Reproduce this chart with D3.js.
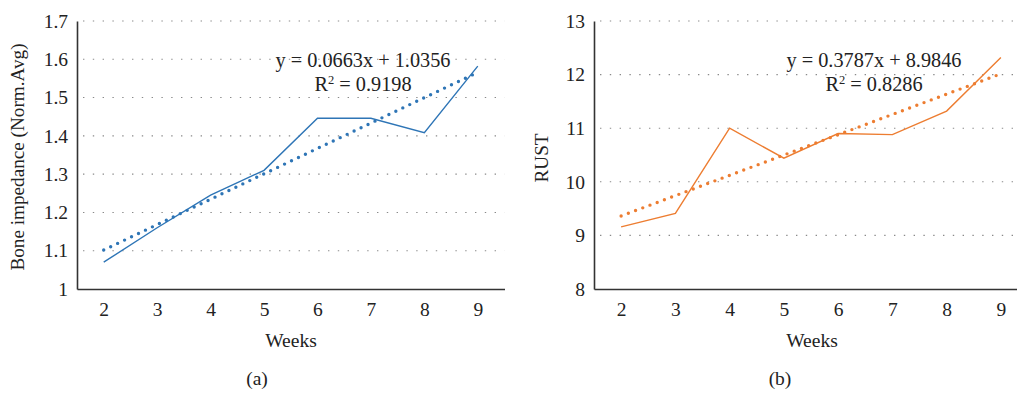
<!DOCTYPE html>
<html><head><meta charset="utf-8">
<script src="https://cdn.jsdelivr.net/npm/d3@7"></script>
<style>
body{margin:0;background:#fff;}
svg{display:block;font-family:"Liberation Serif","DejaVu Serif",serif;}
</style></head>
<body><svg id="c" width="1017" height="394"></svg>
<script>
// ---- data ----
const weeks = [2, 3, 4, 5, 6, 7, 8, 9];
const impedance = [1.07, 1.16, 1.245, 1.31, 1.446, 1.446, 1.408, 1.582];
const rust = [9.16, 9.41, 11.0, 10.44, 10.90, 10.88, 11.32, 12.32];
const impedanceTrend = [1.1019, 1.5660];   // trendline at week 2 and week 9
const rustTrend = [9.3633, 12.0142];
const impedanceTicks = [1, 1.1, 1.2, 1.3, 1.4, 1.5, 1.6, 1.7];
const rustTicks = [8, 9, 10, 11, 12, 13];
const impedanceEq = ["y = 0.0663x + 1.0356", "0.9198"];
const rustEq = ["y = 0.3787x + 8.9846", "0.8286"];

const svg = d3.select("#c");
const fs = 19.5;

function panel(o) {
  const g = svg.append("g");
  const x = d3.scalePoint().domain(weeks).range([o.x0, o.x1]).padding(0.5);
  const y = d3.scaleLinear().domain(o.domain).range([289, 21]);

  // gridlines
  g.selectAll(".grid").data(o.ticks.slice(1)).join("line")
    .attr("x1", o.x0 + 6).attr("x2", o.x1)
    .attr("y1", d => y(d)).attr("y2", d => y(d))
    .attr("stroke", "#8a8a8a").attr("stroke-width", 1.1)
    .attr("stroke-dasharray", "1.4 8.4");

  // y axis
  const ya = g.append("g").attr("transform", `translate(${o.x0},0)`)
    .call(d3.axisLeft(y).tickValues(o.ticks).tickSize(0).tickPadding(9).tickFormat(d => String(d)));
  ya.select(".domain").attr("stroke", "#333").attr("stroke-width", 1.6);
  ya.selectAll("text").attr("font-size", fs).attr("fill", "#222").attr("font-family", "Liberation Serif");

  // x axis
  const xa = g.append("g").attr("transform", `translate(0,289)`)
    .call(d3.axisBottom(x).tickSize(0).tickPadding(13));
  xa.select(".domain").attr("stroke", "#333").attr("stroke-width", 1.6);
  xa.selectAll("text").attr("font-size", fs).attr("fill", "#222").attr("font-family", "Liberation Serif");

  // trend (dotted)
  g.append("line")
    .attr("x1", x(weeks[0])).attr("x2", x(weeks[weeks.length - 1]))
    .attr("y1", y(o.trend[0])).attr("y2", y(o.trend[1]))
    .attr("stroke", o.color).attr("stroke-width", 3.4)
    .attr("stroke-linecap", "round").attr("stroke-dasharray", "0 7.7");

  // data line
  g.append("path").datum(o.values)
    .attr("d", d3.line().x((d, i) => x(weeks[i])).y(d => y(d)))
    .attr("fill", "none").attr("stroke", o.color).attr("stroke-width", 1.4);

  // equation
  g.append("text").attr("x", o.eqx).attr("y", 67).attr("text-anchor", "middle")
    .attr("font-size", 20.3).attr("fill", "#222").text(o.eq[0]);
  const t2 = g.append("text").attr("x", o.eqx).attr("y", 91).attr("text-anchor", "middle")
    .attr("font-size", 20.3).attr("fill", "#222");
  t2.append("tspan").text("R");
  t2.append("tspan").attr("font-size", 12.5).attr("dy", -7.5).text("2");
  t2.append("tspan").attr("dy", 7.5).text(" = " + o.eq[1]);

  // axis titles
  g.append("text").attr("transform", `translate(${o.ylx},${o.yly}) rotate(-90)`)
    .attr("text-anchor", "middle").attr("font-size", 19.2).attr("fill", "#222").text(o.ylabel);
  g.append("text").attr("x", o.wx).attr("y", 347).attr("text-anchor", "middle")
    .attr("font-size", 19.5).attr("fill", "#222").text("Weeks");
  g.append("text").attr("x", o.lx).attr("y", 385).attr("text-anchor", "middle")
    .attr("font-size", 19.5).attr("fill", "#222").text(o.letter);
}

panel({x0: 77, x1: 504.5, domain: [1, 1.7], ticks: impedanceTicks, values: impedance,
  trend: impedanceTrend, color: "#2e75b6", eq: impedanceEq, eqx: 363,
  ylabel: "Bone impedance (Norm.Avg)", ylx: 24, yly: 157, wx: 291, lx: 257, letter: "(a)"});
panel({x0: 594, x1: 1028, domain: [8, 13], ticks: rustTicks, values: rust,
  trend: rustTrend, color: "#ed7d31", eq: rustEq, eqx: 874,
  ylabel: "RUST", ylx: 548, yly: 158, wx: 812, lx: 780, letter: "(b)"});
</script></body></html>
